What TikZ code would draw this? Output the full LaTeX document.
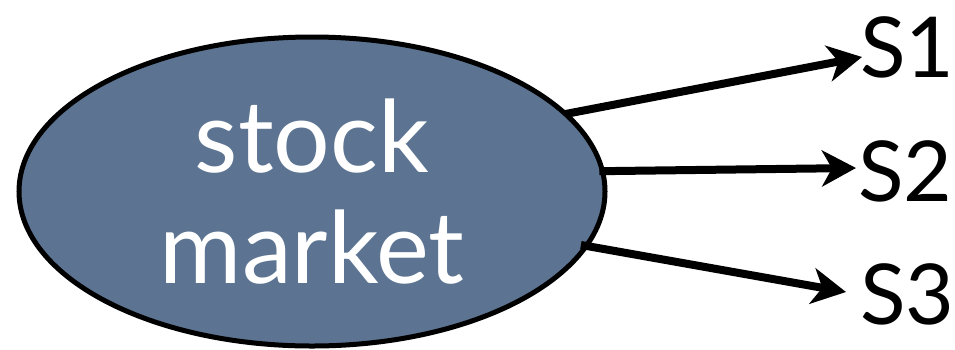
\documentclass[tikz,border=0pt]{standalone}
\usepackage{fontspec}
\setmainfont{Lato}
\usetikzlibrary{shapes.geometric,arrows.meta}
\definecolor{slate}{RGB}{92,116,146}
\begin{document}
\begin{tikzpicture}[x=1pt,y=-1pt,
  bubble/.style={ellipse,draw=black,line width=5pt,fill=slate,inner sep=0pt,outer sep=0pt,
    minimum width=586pt,minimum height=309pt,text=white,align=center,
    font=\fontsize{100}{111}\selectfont},
  slabel/.style={anchor=base west,inner sep=0pt,font=\fontsize{84}{92}\selectfont},
  conn/.style={line width=8pt,-{Stealth[length=34pt,width=36pt,inset=10pt]}}]
\useasboundingbox (0,0) rectangle (955,349);
\node[bubble] (m) at (312,191.5) {stock\\market};
\node[slabel] (s1) at (860,77) {S1};
\node[slabel] (s2) at (858,201) {S2};
\node[slabel] (s3) at (860,324) {S3};
\coordinate (t1) at (862,57);
\coordinate (t2) at (856,168);
\coordinate (t3) at (846,292);
\draw[conn] (m.17) -- (t1);
\draw[conn] ([xshift=-3pt]m.4.7) -- (t2);
\draw[conn] ([xshift=-6pt]m.-11) -- (t3);
\end{tikzpicture}
\end{document}
